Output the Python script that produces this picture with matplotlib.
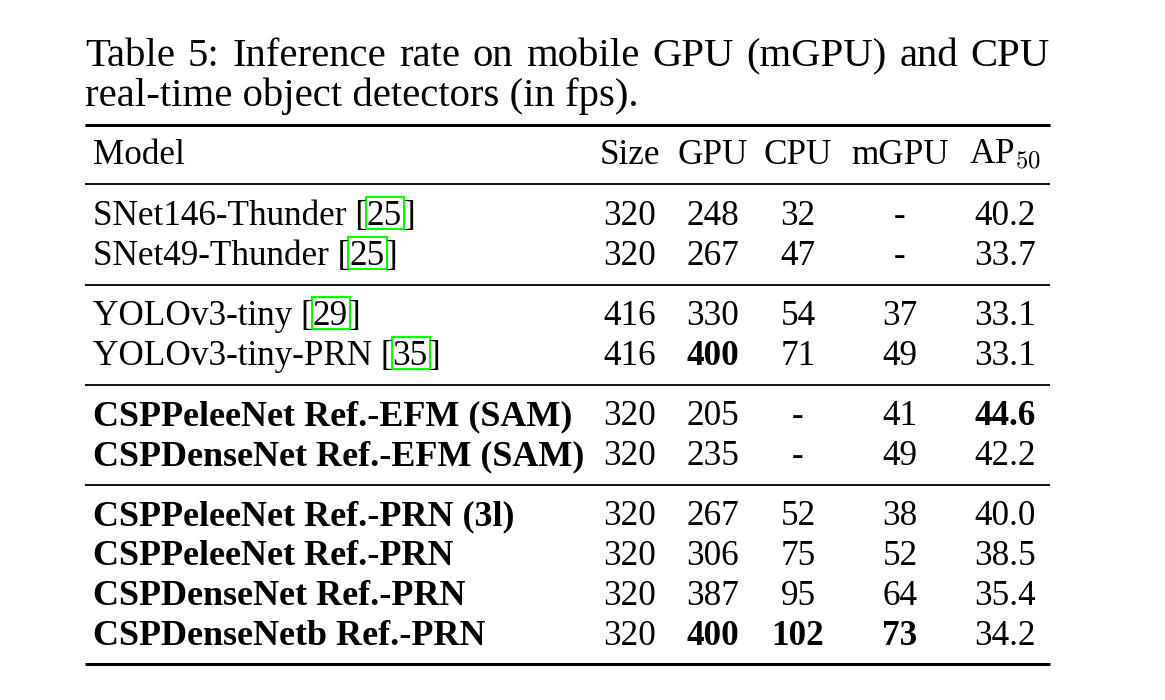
import matplotlib.pyplot as plt
from matplotlib.patches import Rectangle

plt.rcParams['font.family'] = ['Liberation Serif', 'DejaVu Serif']
plt.rcParams['mathtext.fontset'] = 'cm'

caption = ["Table 5: Inference rate on mobile GPU (mGPU) and CPU",
           "real-time object detectors (in fps)."]
columns = ["Model", "Size", "GPU", "CPU", "mGPU", "AP$_{50}$"]
models = ["SNet146-Thunder", "SNet49-Thunder", "YOLOv3-tiny", "YOLOv3-tiny-PRN",
          "CSPPeleeNet Ref.-EFM (SAM)", "CSPDenseNet Ref.-EFM (SAM)",
          "CSPPeleeNet Ref.-PRN (3l)", "CSPPeleeNet Ref.-PRN",
          "CSPDenseNet Ref.-PRN", "CSPDenseNetb Ref.-PRN"]
citations = ["25", "25", "29", "35", "", "", "", "", "", ""]
sizes = ["320", "320", "416", "416", "320", "320", "320", "320", "320", "320"]
gpu = ["248", "267", "330", "400", "205", "235", "267", "306", "387", "400"]
cpu = ["32", "47", "54", "71", "-", "-", "52", "75", "95", "102"]
mgpu = ["-", "-", "37", "49", "41", "49", "38", "52", "64", "73"]
ap50 = ["40.2", "33.7", "33.1", "33.1", "44.6", "42.2", "40.0", "38.5", "35.4", "34.2"]
group_sizes = [2, 2, 2, 4]
bold_model = [False] * 4 + [True] * 6
# (row, column) of bold numbers
bold_cells = [(3, 1), (4, 4), (9, 1), (9, 2), (9, 3)]

W, H = 1165, 700
fig = plt.figure(figsize=(W / 100, H / 100), dpi=100)
ax = fig.add_axes([0, 0, 1, 1])
ax.set_xlim(0, W)
ax.set_ylim(H, 0)
ax.axis('off')
renderer = fig.canvas.get_renderer()

cap_fs = 29.3
fs = 25.3
left, right = 85, 1050
model_x = 93
col_x = [630, 713, 798, 900, 1005]

# caption, first line justified
words = caption[0].split(" ")
tmp = [ax.text(0, 0, w, fontsize=cap_fs) for w in words]
widths = [t.get_window_extent(renderer).width for t in tmp]
for t in tmp:
    t.remove()
gap = (right - left - sum(widths)) / (len(words) - 1)
x = left
for w, wd in zip(words, widths):
    ax.text(x, 66, w, fontsize=cap_fs, va='baseline', ha='left')
    x += wd + gap
ax.text(left, 106, caption[1], fontsize=cap_fs, va='baseline', ha='left')

# rules
ax.plot([left, right], [125, 125], color='black', lw=2.2, solid_capstyle='butt')
ax.plot([left, right], [184, 184], color='black', lw=1.3, solid_capstyle='butt')

# header
ax.text(model_x, 164, columns[0], fontsize=fs, va='baseline')
for cx, c in zip(col_x, columns[1:]):
    ax.text(cx, 164, c, fontsize=fs, va='baseline', ha='center')

# body
y = 184 + 41
row = 0
for g, n in enumerate(group_sizes):
    for k in range(n):
        wt = 'bold' if bold_model[row] else 'normal'
        if citations[row]:
            t1 = ax.text(model_x, y, models[row] + " [", fontsize=fs, va='baseline')
            x1 = t1.get_window_extent(renderer).x1
            t2 = ax.text(x1, y, citations[row], fontsize=fs, va='baseline')
            bb = t2.get_window_extent(renderer)
            ax.add_patch(Rectangle((bb.x0 - 1, y - 28), bb.width + 3, 32,
                                   fill=False, edgecolor='#00ff00', lw=1.5))
            ax.text(bb.x1 + 1, y, "]", fontsize=fs, va='baseline')
        else:
            ax.text(model_x, y, models[row], fontsize=fs + (0.6 if wt == 'bold' else 0),
                    va='baseline', fontweight=wt)
        for c, vals in enumerate([sizes, gpu, cpu, mgpu, ap50]):
            cw = 'bold' if (row, c) in bold_cells else 'normal'
            ax.text(col_x[c], y, vals[row], fontsize=fs, va='baseline', ha='center',
                    fontweight=cw)
        row += 1
        if k < n - 1:
            y += 40
    rule_y = y + 20
    if g < len(group_sizes) - 1:
        ax.plot([left, right], [rule_y, rule_y], color='black', lw=1.3,
                solid_capstyle='butt')
        y = rule_y + 40
    else:
        ax.plot([left, right], [rule_y - 1, rule_y - 1], color='black', lw=2.2,
                solid_capstyle='butt')

fig.savefig("out.png", dpi=100)
